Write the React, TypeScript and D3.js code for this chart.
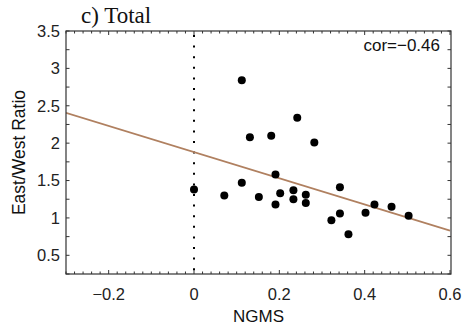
import React from "react";
import * as d3 from "d3";

const ngms = [0, 0.071, 0.112, 0.112, 0.131, 0.152, 0.181, 0.191, 0.191, 0.202, 0.233, 0.233, 0.242, 0.262, 0.262, 0.282, 0.322, 0.342, 0.342, 0.362, 0.402, 0.423, 0.463, 0.503];
const ratio = [1.38, 1.30, 2.84, 1.47, 2.08, 1.28, 2.10, 1.58, 1.18, 1.33, 1.37, 1.25, 2.34, 1.31, 1.20, 2.01, 0.97, 1.41, 1.06, 0.78, 1.07, 1.18, 1.15, 1.03];
const fitIntercept = 1.88;
const fitSlope = -1.75;
const xTickLabels = [-0.2, 0, 0.2, 0.4, 0.6];
const yTickLabels = [0.5, 1, 1.5, 2, 2.5, 3, 3.5];
const titleText = "c) Total";
const corText = "cor=\u22120.46";
const xLabel = "NGMS";
const yLabel = "East/West Ratio";

const W = 464, H = 327;
const L = 66, R = 451, T = 31, B = 274;

export default function App() {
  const x = d3.scaleLinear().domain([-0.3, 0.6]).range([L, 450]);
  const y = d3.scaleLinear().domain([0.25, 3.5]).range([B, T]);
  const xMinor = d3.range(-0.3, 0.6001, 0.02).map((v) => +v.toFixed(3));
  const yMinor = d3.range(0.25, 3.5001, 0.25).map((v) => +v.toFixed(3));
  const fmt = (v: number) => (v === 0 ? "0" : (v < 0 ? "\u2212" : "") + String(Math.abs(v)));
  const line = d3.line<number>().x((d) => x(d)).y((d) => y(fitIntercept + fitSlope * d));
  const frameColor = "#333";
  const sans = "'Liberation Sans', Arial, sans-serif";
  return (
    <svg width={W} height={H} style={{ position: "absolute", left: 0, top: 0, background: "#fff" }}>
      <defs>
        <clipPath id="plotclip">
          <rect x={L} y={T} width={R - L} height={B - T} />
        </clipPath>
      </defs>
      <text x={81} y={23} fontFamily="'Liberation Serif', 'Times New Roman', serif" fontSize={23} fill="#111">{titleText}</text>
      <line x1={x(0)} x2={x(0)} y1={T + 4} y2={B} stroke="#000" strokeWidth={2} strokeDasharray="2,8.6" />
      <path d={line([-0.3, 0.6]) || ""} fill="none" stroke="#b08060" strokeWidth={1.6} clipPath="url(#plotclip)" />
      {ngms.map((v, i) => (
        <circle key={i} cx={x(v)} cy={y(ratio[i])} r={4} fill="#000" />
      ))}
      <rect x={L} y={T} width={R - L} height={B - T} fill="none" stroke={frameColor} strokeWidth={1.2} />
      {xMinor.map((v, i) => {
        const major = xTickLabels.some((t) => Math.abs(t - v) < 1e-6);
        const len = major ? 4 : 2.5;
        return (
          <g key={"xt" + i}>
            <line x1={x(v)} x2={x(v)} y1={B} y2={B - len} stroke={frameColor} strokeWidth={1} />
            <line x1={x(v)} x2={x(v)} y1={T} y2={T + len} stroke={frameColor} strokeWidth={1} />
          </g>
        );
      })}
      {yMinor.map((v, i) => (
        <g key={"yt" + i}>
          <line x1={L} x2={L + 3.5} y1={y(v)} y2={y(v)} stroke={frameColor} strokeWidth={1} />
          <line x1={R} x2={R - 3.5} y1={y(v)} y2={y(v)} stroke={frameColor} strokeWidth={1} />
        </g>
      ))}
      {xTickLabels.map((v, i) => (
        <text key={"xl" + i} x={x(v)} y={300} textAnchor="middle" fontFamily={sans} fontSize={16.5} fill="#222">{fmt(v)}</text>
      ))}
      {yTickLabels.map((v, i) => (
        <text key={"yl" + i} x={60} y={y(v)} dy="0.36em" textAnchor="end" fontFamily={sans} fontSize={16.5} fill="#222">{fmt(v)}</text>
      ))}
      <text x={440} y={51} textAnchor="end" fontFamily={sans} fontSize={17} fill="#111">{corText}</text>
      <text x={(L + R) / 2} y={322} textAnchor="middle" fontFamily={sans} fontSize={17} fill="#111">{xLabel}</text>
      <text transform={`translate(25,${(T + B) / 2}) rotate(-90)`} textAnchor="middle" fontFamily={sans} fontSize={17.5} fill="#111">{yLabel}</text>
    </svg>
  );
}
